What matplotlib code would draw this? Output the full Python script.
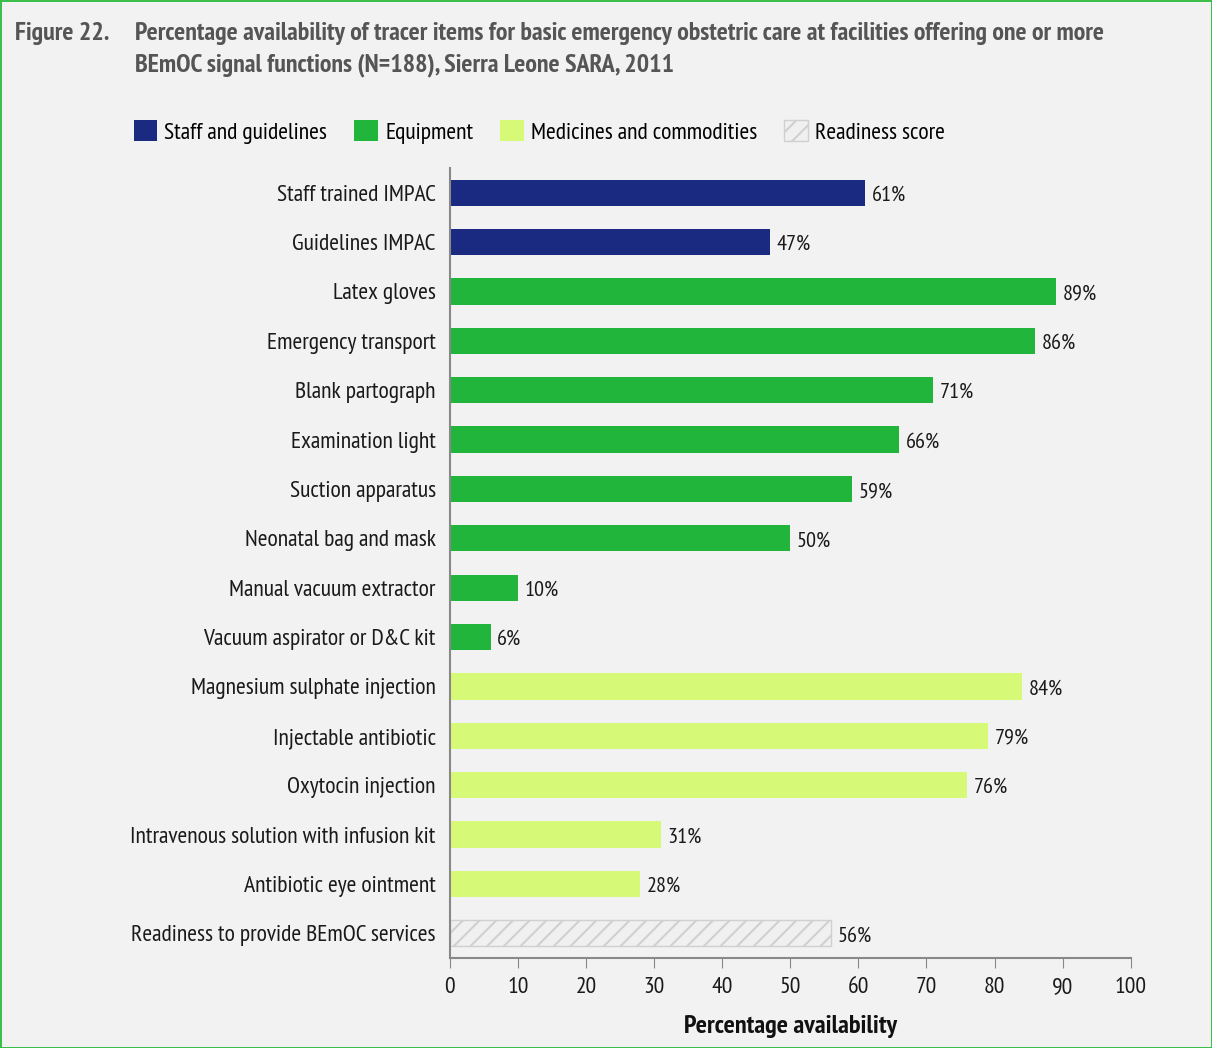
import matplotlib.pyplot as plt
from matplotlib.patches import Patch

plt.rcParams['font.family'] = ['PT Sans Narrow', 'DejaVu Sans']
plt.rcParams['hatch.color'] = '#c8c8c8'
plt.rcParams['hatch.linewidth'] = 1.5

labels = ["Staff trained IMPAC", "Guidelines IMPAC", "Latex gloves", "Emergency transport",
          "Blank partograph", "Examination light", "Suction apparatus", "Neonatal bag and mask",
          "Manual vacuum extractor", "Vacuum aspirator or D&C kit", "Magnesium sulphate injection",
          "Injectable antibiotic", "Oxytocin injection", "Intravenous solution with infusion kit",
          "Antibiotic eye ointment", "Readiness to provide BEmOC services"]
values = [61, 47, 89, 86, 71, 66, 59, 50, 10, 6, 84, 79, 76, 31, 28, 56]
groups = ["staff"] * 2 + ["equip"] * 8 + ["med"] * 5 + ["score"]

colors = {"staff": "#1a2a80", "equip": "#21b53c", "med": "#d6f977", "score": "#f0f0f0"}
bg = "#f2f2f2"

fig = plt.figure(figsize=(12.12, 10.48), dpi=100, facecolor=bg)
fig.patch.set_edgecolor("#3cbf4a")
fig.patch.set_linewidth(2)
ax = fig.add_axes([0.371, 0.0859, 0.562, 0.7538], facecolor=bg)

y = list(range(len(labels)))
for yi, v, g in zip(y, values, groups):
    if g == "score":
        ax.barh(yi, v, height=0.53, color=colors[g], edgecolor="#d0d0d0", hatch="//", linewidth=1)
    else:
        ax.barh(yi, v, height=0.53, color=colors[g], edgecolor="none")
    ax.text(v + 1, yi + 0.05, f"{v}%", va="center", ha="left", fontsize=16, color="#1a1a1a")

ax.set_ylim(len(labels) - 0.5, -0.5)
ax.set_xlim(0, 100)
ax.set_yticks(y)
ax.set_yticklabels(labels, fontsize=17, color="#1a1a1a")
ax.set_xticks(range(0, 101, 10))
ax.tick_params(axis="x", labelsize=17, colors="#1a1a1a", length=7, color="#888888", pad=7)
ax.tick_params(axis="y", length=0, pad=10)
for s in ["top", "right"]:
    ax.spines[s].set_visible(False)
for s in ["left", "bottom"]:
    ax.spines[s].set_color("#888888")
    ax.spines[s].set_linewidth(1.5)
ax.set_xlabel("Percentage availability", fontsize=19, fontweight="bold", color="#111111", labelpad=12)

fig.text(0.012, 0.968, "Figure 22.", fontsize=18.7, fontweight="bold", color="#555555", va="center")
fig.text(0.111, 0.968, "Percentage availability of tracer items for basic emergency obstetric care at facilities offering one or more",
         fontsize=18.7, fontweight="bold", color="#555555", va="center")
fig.text(0.111, 0.938, "BEmOC signal functions (N=188), Sierra Leone SARA, 2011",
         fontsize=18.7, fontweight="bold", color="#555555", va="center")

handles = [Patch(facecolor=colors["staff"], label="Staff and guidelines"),
           Patch(facecolor=colors["equip"], label="Equipment"),
           Patch(facecolor=colors["med"], label="Medicines and commodities"),
           Patch(facecolor=colors["score"], edgecolor="#d0d0d0", hatch="//", label="Readiness score")]
fig.legend(handles=handles, loc="center", bbox_to_anchor=(0.445, 0.874), ncol=4, frameon=False,
           fontsize=17, handlelength=1.0, handleheight=1.0, columnspacing=1.15, handletextpad=0.3)

fig.savefig("out.png", dpi=100, facecolor=bg, edgecolor=fig.patch.get_edgecolor())
